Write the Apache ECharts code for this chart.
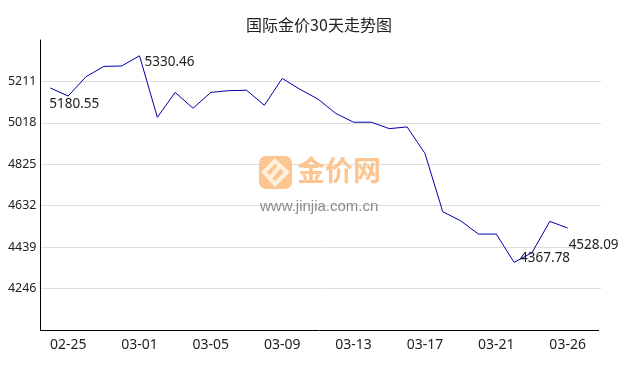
<!DOCTYPE html>
<html>
<head>
<meta charset="utf-8">
<title>国际金价30天走势图</title>
<script src="https://cdn.jsdelivr.net/npm/echarts@6/dist/echarts.min.js"></script>
<style>
html, body { margin: 0; padding: 0; background: #fff; }
#container { width: 638px; height: 370px; }
</style>
</head>
<body>
<div id="container"></div>
<script>
var titleText = "国际金价30天走势图";
// 日期标签，03-25 原图里没有
var dates = ["02-24", "02-25", "02-26", "02-27", "02-28", "03-01", "03-02", "03-03", "03-04", "03-05",
    "03-06", "03-07", "03-08", "03-09", "03-10", "03-11", "03-12", "03-13", "03-14", "03-15",
    "03-16", "03-17", "03-18", "03-19", "03-20", "03-21", "03-22", "03-23", "03-24", "03-26"];
var prices = [5180.55, 5143, 5233, 5281, 5283, 5330.46, 5044, 5160, 5086, 5160,
    5168, 5170, 5100, 5225, 5174, 5129, 5062, 5021, 5021, 4991,
    4999, 4876, 4604, 4562, 4500, 4500, 4367.78, 4413, 4559, 4528.09];
var labelIndexes = [1, 5, 9, 13, 17, 21, 25, 29];
var annotated = [0, 5, 26, 29];
var annotatedOffsets = [[-1, 16], [5, 6], [6, -4], [1, 17]];

var font = '"Noto Sans", sans-serif';
var myChart = echarts.init(document.getElementById("container"));

myChart.setOption({
    animation: false,
    backgroundColor: "#fff",
    title: {
        text: titleText,
        left: "center",
        top: 12,
        textStyle: { fontSize: 16, fontWeight: "normal", color: "#222", fontFamily: '"Noto Sans CJK SC", sans-serif' },
    },
    grid: { left: 40.5, right: 37, top: 40, bottom: 40 },
    xAxis: {
        type: "value",
        min: -0.55,
        max: 30.87,
        axisLine: { show: false },
        axisTick: { show: false },
        splitLine: { show: false },
        axisLabel: {
            customValues: labelIndexes,
            color: "#222",
            fontSize: 14,
            fontFamily: font,
            margin: 8,
            formatter: function(v) { return dates[v]; },
        },
    },
    yAxis: {
        type: "value",
        min: 4053,
        max: 5404,
        interval: 193,
        axisLine: { show: true, onZero: false, lineStyle: { color: "#000", width: 1 } },
        axisTick: { show: false },
        splitLine: { showMinLine: false, showMaxLine: false, lineStyle: { color: "#ddd", width: 1 } },
        axisLabel: {
            showMinLabel: false,
            showMaxLabel: false,
            color: "#222",
            fontSize: 12.5,
            fontFamily: font,
            margin: 4,
            padding: [2, 0, 0, 0],
            formatter: function(v) { return String(v); },
        },
    },
    graphic: [
        { type: "line", shape: { x1: 40, y1: 330.5, x2: 599, y2: 330.5 }, style: { stroke: "#000", lineWidth: 1 }, z: 8 },
        { type: "rect", left: 259, top: 156, shape: { width: 33, height: 33, r: 7 }, style: { fill: "#fdc58f" }, z: 5 },
        { type: "polygon", shape: { points: [[275, 161], [287, 172], [275, 184], [264, 172]] }, style: { fill: "none", stroke: "#fff1e0", lineWidth: 4 }, z: 6 },
        { type: "line", shape: { x1: 270, y1: 178, x2: 280, y2: 166 }, style: { stroke: "#fff1e0", lineWidth: 4 }, z: 6 },
        { type: "text", left: 297, top: 156, style: { text: "金价网", fill: "#fdc58f", fontSize: 28, fontWeight: "bold", fontFamily: '"Noto Sans CJK SC", sans-serif' }, z: 5 },
        { type: "text", left: 260, top: 199, style: { text: "www.jinjia.com.cn", fill: "#8a8a8a", fontSize: 15, fontFamily: '"Liberation Sans", Arial, sans-serif' }, z: 5 },
    ],
    series: [{
        type: "line",
        data: prices.map(function(p, i) { return [i, p]; }),
        showSymbol: false,
        symbol: "none",
        silent: true,
        lineStyle: { color: "#0000a8", width: 1 },
        z: 10,
        markPoint: {
            symbol: "circle",
            symbolSize: 0,
            silent: true,
            data: annotated.map(function(i, k) {
                return {
                    coord: [i, prices[i]],
                    value: prices[i].toFixed(2),
                    label: {
                        show: true,
                        position: "right",
                        distance: 0,
                        offset: annotatedOffsets[k],
                        color: "#222",
                        fontSize: 13.5,
                        fontFamily: font,
                    },
                };
            }),
        },
    }],
});
</script>
</body>
</html>
